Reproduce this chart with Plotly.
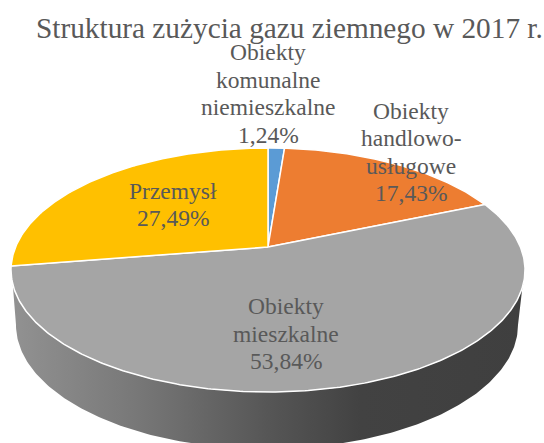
import numpy as np
import plotly.graph_objects as go

W, H = 544, 443
title = "Struktura zużycia gazu ziemnego w 2017 r."
categories = [["Obiekty", "komunalne", "niemieszkalne"], ["Obiekty", "handlowo-", "usługowe"],
              ["Obiekty", "mieszkalne"], ["Przemysł"]]
values = [1.24, 17.43, 53.84, 27.49]
value_labels = ["1,24%", "17,43%", "53,84%", "27,49%"]
colors = ["#5B9BD5", "#ED7D31", "#A5A5A5", "#FFC000"]
label_x = [268, 411, 286, 173]
label_y = [93.5, 152, 333.5, 204.5]
text_color = "#595959"
LINE_PITCH = 27.6

# perspective disc geometry (pixels)
CX, CY, A, B, K = 268, 247, 252.4, 117.7, 0.1885


def project(theta):
    xu, yu = np.sin(theta), np.cos(theta)
    den = 1 + K * yu
    return CX + A * xu / den, CY - B * yu / den


fig = go.Figure()

# side wall
th_top = np.radians(np.linspace(99, 261.5, 200))
tx, ty = project(th_top)
phi = np.radians(np.linspace(180, 0, 200))
lx = 267 + 251 * np.cos(phi)
ly = 325 + 124 * np.sin(phi)
side_x = np.r_[tx[::-1], lx[::-1]]
side_y = np.r_[ty[::-1], ly[::-1]]
fig.add_trace(go.Scatter(
    x=side_x, y=side_y, mode="lines", line=dict(width=0), fill="toself",
    fillgradient=dict(type="horizontal", colorscale=[
        [0, "#929292"], [0.25, "#777777"], [0.5, "#565656"], [0.68, "#424242"], [1, "#3F3F3F"]]),
    hoverinfo="skip", showlegend=False))

# top slices
cum = np.cumsum([0] + values)
total = cum[-1]
for i, col in enumerate(colors):
    t = np.linspace(cum[i], cum[i + 1], max(8, int(values[i] * 6))) / total * 2 * np.pi
    px, py = project(t)
    fig.add_trace(go.Scatter(
        x=np.r_[CX, px, CX], y=np.r_[CY, py, CY], mode="lines",
        line=dict(color="white", width=1.5), fill="toself", fillcolor=col,
        hoverinfo="skip", showlegend=False))

annotations = [dict(x=289.5, y=28, text=title, showarrow=False, xanchor="center", yanchor="middle",
                    font=dict(size=29.3, color=text_color))]
for c, v, x, y in zip(categories, value_labels, label_x, label_y):
    lines = c + [v]
    for j, line in enumerate(lines):
        annotations.append(dict(x=x, y=y + (j - (len(lines) - 1) / 2) * LINE_PITCH, text=line,
                                showarrow=False, xanchor="center", yanchor="middle",
                                font=dict(size=23.5, color=text_color)))

fig.update_layout(
    width=W, height=H, margin=dict(l=0, r=0, t=0, b=0),
    paper_bgcolor="white", plot_bgcolor="white",
    font=dict(family="Liberation Serif"),
    xaxis=dict(range=[0, W], visible=False, fixedrange=True),
    yaxis=dict(range=[H, 0], visible=False, fixedrange=True),
    annotations=annotations, showlegend=False)
fig.write_html("out.html", config=dict(displayModeBar=False),
               post_script="document.body.style.margin='0';document.body.style.overflow='hidden';")
